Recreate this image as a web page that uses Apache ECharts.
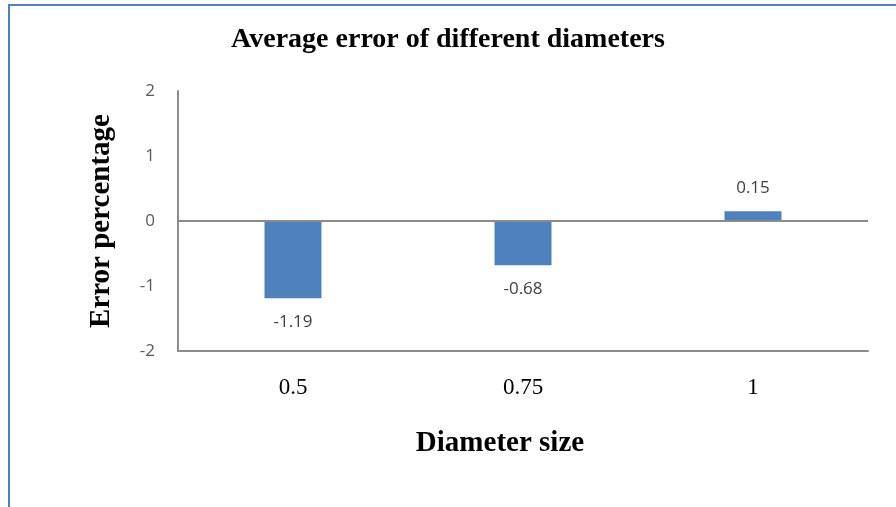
<!DOCTYPE html>
<html>
<head>
<meta charset="utf-8">
<script src="https://cdn.jsdelivr.net/npm/echarts@6/dist/echarts.min.js"></script>
<style>
html,body{margin:0;padding:0;background:#fff;}
#frame{position:absolute;left:0;top:0;width:896px;height:507px;}
#border{position:absolute;left:8px;top:4px;right:0;bottom:0;border-top:2px solid #4F81BD;border-left:2px solid #4F81BD;pointer-events:none;}
#chart{position:absolute;left:0;top:0;width:896px;height:507px;}
</style>
</head>
<body>
<div id="frame">
<div id="chart"></div>
<div id="border"></div>
</div>
<script>
const categories = ['0.5', '0.75', '1'];
const errorValues = [-1.19, -0.68, 0.15];
const yTicks = { min: -2, max: 2, interval: 1 };

const chart = echarts.init(document.getElementById('chart'));
const serif = '"Liberation Serif", "Times New Roman", serif';
const sans = '"Open Sans", "Liberation Sans", sans-serif';
chart.setOption({
  animation: false,
  backgroundColor: '#fff',
  title: {
    text: 'Average error of different diameters',
    left: 'center',
    top: 21,
    textStyle: { fontFamily: serif, fontWeight: 'bold', fontSize: 28, color: '#000' }
  },
  grid: { left: 178, right: 28, top: 91, bottom: 156, containLabel: false },
  xAxis: {
    type: 'category',
    data: categories,
    axisLine: { onZero: false, lineStyle: { color: '#8c8c8c', width: 2 } },
    axisTick: { show: false },
    axisLabel: { margin: 25, fontFamily: serif, fontSize: 23, color: '#000' },
    name: 'Diameter size',
    nameLocation: 'middle',
    nameGap: 78,
    nameTextStyle: { fontFamily: serif, fontWeight: 'bold', fontSize: 29, color: '#000', padding: [0, 46, 0, 0] }
  },
  yAxis: {
    type: 'value',
    min: yTicks.min, max: yTicks.max, interval: yTicks.interval,
    axisLine: { show: true, lineStyle: { color: '#8c8c8c', width: 2 } },
    axisTick: { show: false },
    splitLine: { show: false },
    axisLabel: { margin: 23, fontFamily: sans, fontSize: 17, color: '#595959' },
    name: 'Error percentage',
    nameLocation: 'middle',
    nameGap: 62,
    nameTextStyle: { fontFamily: serif, fontWeight: 'bold', fontSize: 29, color: '#000' }
  },
  series: [{
    type: 'bar',
    data: errorValues,
    barWidth: 57,
    itemStyle: { color: '#4F81BD' },
    label: {
      show: true,
      position: 'outside',
      distance: 15,
      fontFamily: sans, fontSize: 17, color: '#404040',
      formatter: p => p.value.toFixed(2)
    },
    markLine: {
      silent: true, symbol: 'none', label: { show: false },
      lineStyle: { color: '#8c8c8c', width: 2, type: 'solid' },
      data: [{ yAxis: 0 }]
    }
  }]
});
</script>
</body>
</html>
